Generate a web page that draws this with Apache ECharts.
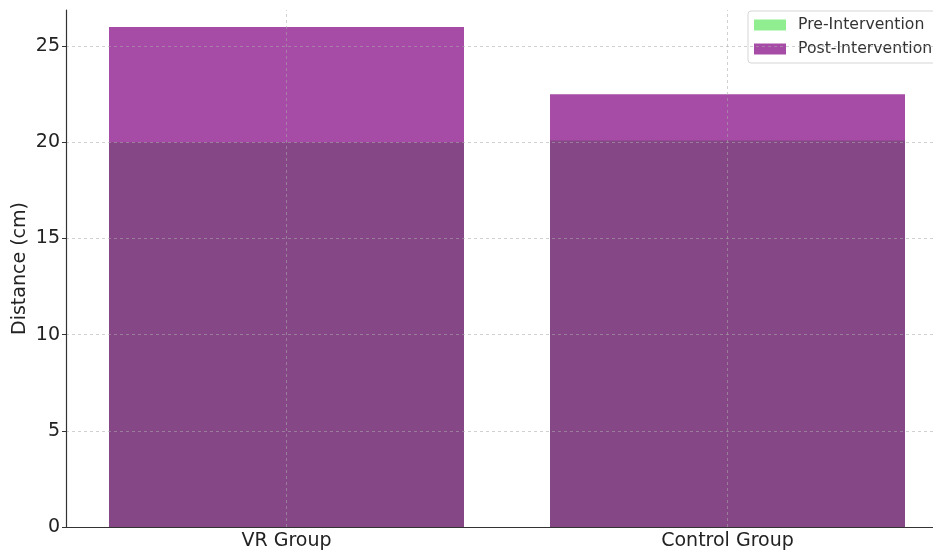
<!DOCTYPE html>
<html>
<head>
<meta charset="utf-8">
<script src="https://cdn.jsdelivr.net/npm/echarts@6/dist/echarts.min.js"></script>
<style>
html,body{margin:0;padding:0;background:#fff;}
#chart{width:933px;height:553px;}
</style>
</head>
<body>
<div id="chart"></div>
<script>
var categories = ['VR Group', 'Control Group'];
var preValues = [20.0, 20.1];
var postValues = [26.0, 22.5];
var yTicks = [0, 5, 10, 15, 20, 25];
var seriesNames = ['Pre-Intervention', 'Post-Intervention'];

var font = 'DejaVu Sans';
var chart = echarts.init(document.getElementById('chart'), null, {renderer: 'canvas'});
var gridColor = 'rgba(170,170,170,0.55)';

chart.setOption({
  animation: false,
  backgroundColor: '#ffffff',
  grid: {left: 66, width: 882, top: 10, bottom: 26, containLabel: false, outerBoundsMode: 'none'},
  legend: {
    orient: 'vertical',
    left: 748, top: 11,
    padding: [6, 8, 6, 6],
    itemWidth: 32, itemHeight: 11, itemGap: 8,
    borderColor: '#d6d6d6', borderWidth: 1, borderRadius: 3,
    backgroundColor: 'rgba(255,255,255,0.8)',
    textStyle: {fontFamily: font, fontSize: 15.7, color: '#333', padding: [0, 0, 0, 7]},
    icon: 'rect',
    data: seriesNames
  },
  xAxis: {
    type: 'category',
    data: categories,
    z: 5,
    axisLine: {lineStyle: {color: '#333', width: 1.2}},
    axisTick: {alignWithLabel: true, length: 4, lineStyle: {color: '#333'}},
    axisLabel: {fontFamily: font, fontSize: 19, color: '#222', margin: 5},
    splitLine: {show: false}
  },
  yAxis: {
    type: 'value',
    min: 0, max: 26.88, interval: 5,
    z: 5,
    name: 'Distance (cm)',
    nameLocation: 'middle',
    nameGap: 36,
    nameMoveOverlap: false,
    nameTextStyle: {fontFamily: font, fontSize: 19, color: '#222'},
    axisLine: {show: true, lineStyle: {color: '#333', width: 1.2}},
    axisTick: {show: true, length: 4, lineStyle: {color: '#333'}},
    axisLabel: {fontFamily: font, fontSize: 19, color: '#222', margin: 6,
      showMaxLabel: false,
      formatter: function (v) { return yTicks.indexOf(v) >= 0 ? String(v) : ''; }},
    splitLine: {show: true, showMaxLine: false, showMinLine: false,
      lineStyle: {color: gridColor, type: [3, 3], width: 1}}
  },
  series: [
    {
      name: seriesNames[0], type: 'bar', data: preValues,
      barWidth: '80.5%', barGap: '-100%',
      itemStyle: {color: '#90EE90'}
    },
    {
      name: seriesNames[1], type: 'bar', data: postValues,
      barWidth: '80.5%', barGap: '-100%',
      itemStyle: {color: 'rgba(128,0,128,0.7)'},
      markLine: {
        silent: true, symbol: 'none', z: 6,
        label: {show: false},
        lineStyle: {color: gridColor, type: [3, 3], width: 1},
        data: categories.map(function (c) { return {xAxis: c}; })
      }
    }
  ]
});
</script>
</body>
</html>
